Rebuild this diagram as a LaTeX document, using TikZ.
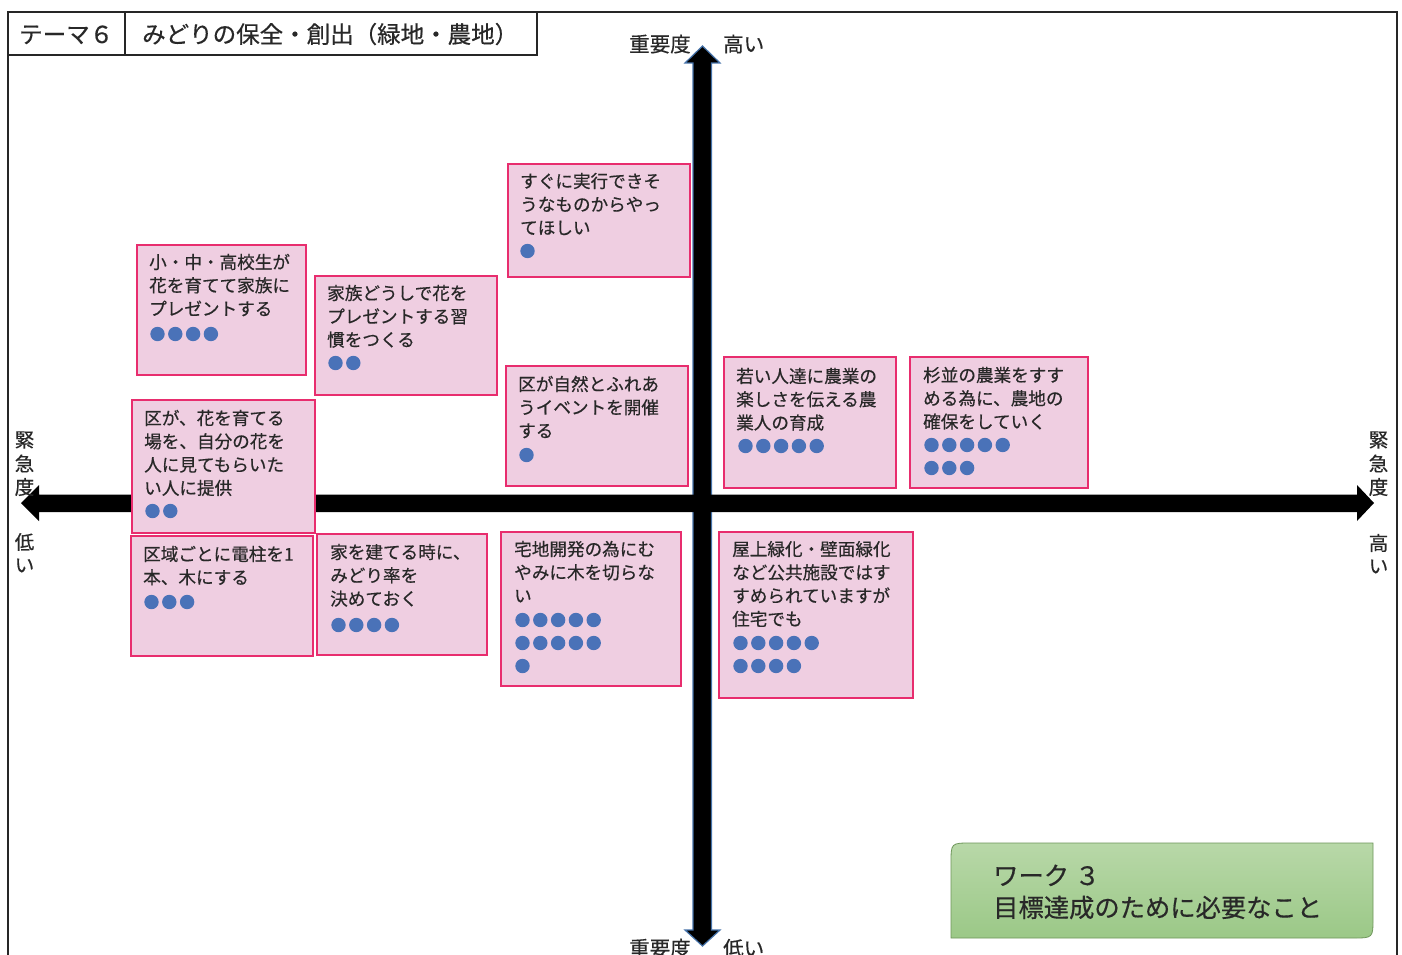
\documentclass[tikz,border=0pt]{standalone}
\usepackage{fontspec}
\setmainfont{Noto Sans CJK JP}[BoldFont={Noto Sans CJK JP},BoldFeatures={FakeBold=0.5}]
\definecolor{cardfill}{RGB}{239,206,225}
\definecolor{cardline}{RGB}{232,45,110}
\definecolor{dotblue}{RGB}{74,114,184}
\definecolor{txt}{RGB}{40,40,40}
\definecolor{arrowblue}{RGB}{70,115,170}
\definecolor{greentop}{RGB}{184,216,168}
\definecolor{greenbot}{RGB}{155,200,135}
\definecolor{greenline}{RGB}{110,150,90}
\tikzset{
  card/.style={draw=cardline, fill=cardfill, line width=1.6pt, inner sep=0pt, outer sep=0pt},
  cardtext/.style={anchor=base west, inner sep=0pt, text=txt, font=\fontsize{17.6}{20}\selectfont\bfseries},
  axislabel/.style={anchor=base west, inner sep=0pt, text=txt, font=\fontsize{20.5}{24}\selectfont\bfseries},
  sidelabel/.style={anchor=center, inner sep=0pt, text=txt, font=\fontsize{19.5}{22}\selectfont\bfseries},
  titletext/.style={anchor=base west, inner sep=0pt, text=txt, font=\fontsize{23.5}{27}\selectfont\bfseries},
  worktext/.style={anchor=base west, inner sep=0pt, text=txt, font=\fontsize{25.3}{30}\selectfont\bfseries},
  frameline/.style={line width=1.5pt, draw=black!85}
}
\newcommand\cardbox[5]{\node[card, minimum width=#4pt, minimum height=#5pt, anchor=north west] (#1) at (#2,#3) {};}
\newcommand\cardtxt[4]{\foreach \t [count=\i] in {#4} {\node[cardtext] (#1-\i) at (#2, {#3+(\i-1)*23.3+6.7}) {\t};}}
\newcommand\carddots[3]{\foreach \k in {1,...,#3} {\fill[dotblue] ({#1+7.5+(\k-1)*17.8}, #2) circle[radius=7.2pt];}}
\begin{document}
\begin{tikzpicture}[x=1pt,y=-1pt]
\useasboundingbox[fill=white] (0,0) rectangle (1402,955);
% frame
\draw[frameline] (8,955) -- (8,12) -- (1397,12) -- (1397,955);
\draw[frameline] (8,55) -- (537,55) -- (537,12);
\draw[frameline] (125,12) -- (125,55);
\node[titletext] (t1) at (19,43) {テーマ６};
\node[titletext] (t2) at (142,43) {みどりの保全・創出（緑地・農地）};
% vertical arrow
\draw[fill=black, draw=arrowblue, line width=1.2pt]
  (693,63) -- (685,63) -- (702.5,46) -- (720,63) -- (711.5,63) -- (711.5,930)
  -- (720,930) -- (702.5,946) -- (685,930) -- (693,930) -- cycle;
% horizontal arrow
\fill[black] (39,494.5) -- (39,485) -- (21,503) -- (39,521) -- (39,512)
  -- (1357,512) -- (1357,521) -- (1374,503) -- (1357,485) -- (1357,494.5) -- cycle;
% axis labels
\node[axislabel] (vt1) at (629,51.8) {重要度};
\node[axislabel] (vt2) at (723,51.8) {高い};
\node[axislabel] (vb1) at (629,956) {重要度};
\node[axislabel] (vb2) at (723,956) {低い};
\foreach \c/\y [count=\i] in {緊/440,急/463.5,度/487,低/542,い/565.5}
  {\node[sidelabel] (l\i) at (24.5,\y) {\c};}
\foreach \c/\y [count=\i] in {緊/440,急/463.5,度/487,高/543,い/566.5}
  {\node[sidelabel] (r\i) at (1378.5,\y) {\c};}
% cards
\cardbox{c1}{508}{164}{182}{113}
\cardtxt{c1}{520}{181}{すぐに実行できそ,うなものからやっ,てほしい}
\carddots{520}{251}{1}
\cardbox{c2}{137}{245}{169}{130}
\cardtxt{c2}{149}{262}{小・中・高校生が,花を育てて家族に,プレゼントする}
\carddots{150}{334}{4}
\cardbox{c3}{315}{276}{182}{119}
\cardtxt{c3}{327}{293}{家族どうしで花を,プレゼントする習,慣をつくる}
\carddots{328}{363}{2}
\cardbox{c4}{506}{366}{182}{120}
\cardtxt{c4}{518}{384}{区が自然とふれあ,うイベントを開催,する}
\carddots{519}{455}{1}
\cardbox{c5}{132}{400}{183}{133}
\cardtxt{c5}{144}{418}{区が、花を育てる,場を、自分の花を,人に見てもらいた,い人に提供}
\carddots{145}{511}{2}
\cardbox{c6}{724}{357}{172}{131}
\cardtxt{c6}{736}{376}{若い人達に農業の,楽しさを伝える農,業人の育成}
\carddots{738}{446}{5}
\cardbox{c7}{910}{357}{178}{131}
\cardtxt{c7}{923}{375}{杉並の農業をすす,める為に、農地の,確保をしていく}
\carddots{924}{445}{5}
\carddots{924}{468}{3}
\cardbox{c8}{131}{536}{182}{120}
\cardtxt{c8}{143}{554}{区域ごとに電柱を1,本、木にする}
\carddots{144}{602}{3}
\cardbox{c9}{317}{534}{170}{121}
\cardtxt{c9}{330}{552}{家を建てる時に、,みどり率を,決めておく}
\carddots{331}{625}{4}
\cardbox{c10}{501}{532}{180}{154}
\cardtxt{c10}{514}{549}{宅地開発の為にむ,やみに木を切らな,い}
\carddots{515}{620}{5}
\carddots{515}{643}{5}
\carddots{515}{666}{1}
\cardbox{c11}{719}{532}{194}{166}
\cardtxt{c11}{732}{549}{屋上緑化・壁面緑化,など公共施設ではす,すめられていますが,住宅でも}
\carddots{733}{643}{5}
\carddots{733}{666}{4}
% work box
\draw[draw=greenline, line width=0.8pt, top color=greentop, bottom color=greenbot]
  (951,938) -- (951,863) .. controls (951,843) .. (971,843) -- (1373,843)
  -- (1373,918) .. controls (1373,938) .. (1353,938) -- cycle;
\node[worktext] (w1) at (993,885) {ワーク ３};
\node[worktext] (w2) at (993,917) {目標達成のために必要なこと};
\end{tikzpicture}
\end{document}
